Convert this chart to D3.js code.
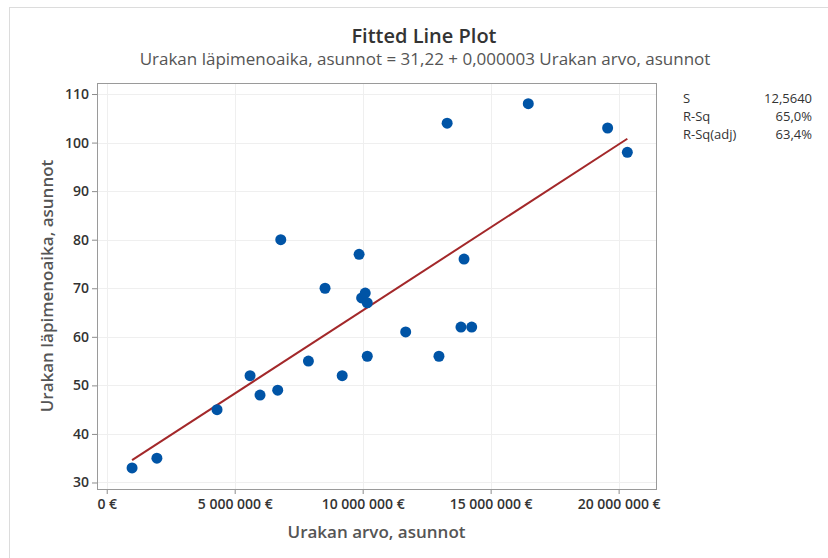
<!DOCTYPE html>
<html>
<head>
<meta charset="utf-8">
<script src="https://cdn.jsdelivr.net/npm/d3@7"></script>
<style>
  body { margin: 0; background: #fff; }
  svg text { font-family: "Open Sans", "Noto Sans", sans-serif; }
</style>
</head>
<body>
<svg width="828" height="558"></svg>
<script>
// urakan arvo (euro) and läpimenoaika
var urakanArvo = [990000, 1960000, 4310000, 5600000, 5990000, 6680000, 6800000, 7880000,
  8530000, 9200000, 9860000, 9960000, 10100000, 10180000, 10180000, 11680000,
  12980000, 13840000, 14260000, 13960000, 13300000, 16470000, 19570000, 20340000];
var lapimenoaika = [33, 35, 45, 52, 48, 49, 80, 55,
  70, 52, 77, 68, 69, 67, 56, 61,
  56, 62, 62, 76, 104, 108, 103, 98];

var xTicks = [0, 5000000, 10000000, 15000000, 20000000];
var yTicks = [30, 40, 50, 60, 70, 80, 90, 100, 110];

var intercept = 31.22, slope = 0.00000342;

var statLabels = ["S", "R-Sq", "R-Sq(adj)"];
var statValues = ["12,5640", "65,0%", "63,4%"];

var svg = d3.select("svg");

var plot = {left: 97, top: 83, right: 656, bottom: 489};

var x = d3.scaleLinear().domain([-380000, 21460000]).range([plot.left, plot.right]);
var y = d3.scaleLinear().domain([28.66, 112.27]).range([plot.bottom, plot.top]);

var fmt = function(d) { return d3.format(",")(d).replace(/,/g, " ") + " €"; };

// outer frame
svg.append("rect")
    .attr("x", 9.5).attr("y", 7.5)
    .attr("width", 840).attr("height", 600)
    .attr("fill", "none").attr("stroke", "#dcdcdc");

// grid
svg.append("g").selectAll("line")
    .data(xTicks)
  .enter().append("line")
    .attr("x1", function(d) { return Math.round(x(d)) + 0.5; })
    .attr("x2", function(d) { return Math.round(x(d)) + 0.5; })
    .attr("y1", plot.top).attr("y2", plot.bottom)
    .attr("stroke", "#efefef");

svg.append("g").selectAll("line")
    .data(yTicks)
  .enter().append("line")
    .attr("y1", function(d) { return Math.round(y(d)) + 0.5; })
    .attr("y2", function(d) { return Math.round(y(d)) + 0.5; })
    .attr("x1", plot.left).attr("x2", plot.right)
    .attr("stroke", "#efefef");

// axes
var xAxis = svg.append("g")
    .attr("transform", "translate(0," + plot.bottom + ")")
    .call(d3.axisBottom(x).tickValues(xTicks).tickFormat(fmt).tickSize(5).tickSizeOuter(0));

var yAxis = svg.append("g")
    .attr("transform", "translate(" + plot.left + ",0)")
    .call(d3.axisLeft(y).tickValues(yTicks).tickSize(5).tickSizeOuter(0));

[xAxis, yAxis].forEach(function(a) {
  a.select(".domain").remove();
  a.selectAll("line").attr("stroke", "#8c8c8c");
  a.selectAll("text")
      .attr("fill", "#333")
      .style("font-size", "14px")
      .style("font-weight", "600");
});
xAxis.selectAll("text").attr("dy", "0.85em");
yAxis.selectAll("text").attr("x", -8);

// plot frame
svg.append("rect")
    .attr("x", plot.left + 0.5).attr("y", plot.top + 0.5)
    .attr("width", plot.right - plot.left).attr("height", plot.bottom - plot.top)
    .attr("fill", "none").attr("stroke", "#9a9a9a");

// fitted line over the data range
var xr = d3.extent(urakanArvo);
svg.append("line")
    .attr("x1", x(xr[0])).attr("y1", y(intercept + slope * xr[0]))
    .attr("x2", x(xr[1])).attr("y2", y(intercept + slope * xr[1]))
    .attr("stroke", "#a3282a").attr("stroke-width", 2);

// points
svg.append("g").selectAll("circle")
    .data(urakanArvo)
  .enter().append("circle")
    .attr("cx", function(d) { return x(d); })
    .attr("cy", function(d, i) { return y(lapimenoaika[i]); })
    .attr("r", 5.5)
    .attr("fill", "#0054a6");

// titles
svg.append("text")
    .attr("x", 424).attr("y", 43)
    .attr("text-anchor", "middle")
    .attr("fill", "#333")
    .style("font-size", "20px").style("font-weight", "600")
    .text("Fitted Line Plot");

svg.append("text")
    .attr("x", 425).attr("y", 65)
    .attr("text-anchor", "middle")
    .attr("fill", "#555")
    .style("font-size", "17px")
    .text("Urakan läpimenoaika, asunnot = 31,22 + 0,000003 Urakan arvo, asunnot");

svg.append("text")
    .attr("x", (plot.left + plot.right) / 2).attr("y", 538)
    .attr("text-anchor", "middle")
    .attr("fill", "#555")
    .style("font-size", "17px").style("font-weight", "600")
    .text("Urakan arvo, asunnot");

svg.append("text")
    .attr("transform", "translate(53," + (plot.top + plot.bottom) / 2 + ") rotate(-90)")
    .attr("text-anchor", "middle")
    .attr("fill", "#555")
    .style("font-size", "17px").style("font-weight", "600")
    .text("Urakan läpimenoaika, asunnot");

// summary table
var stats = svg.append("g").selectAll("g")
    .data(statLabels)
  .enter().append("g")
    .attr("transform", function(d, i) { return "translate(0," + (103 + i * 18) + ")"; });

stats.append("text")
    .attr("x", 683)
    .attr("fill", "#333")
    .style("font-size", "13px")
    .text(function(d) { return d; });

stats.append("text")
    .attr("x", 812)
    .attr("text-anchor", "end")
    .attr("fill", "#333")
    .style("font-size", "13px")
    .text(function(d, i) { return statValues[i]; });
</script>
</body>
</html>
